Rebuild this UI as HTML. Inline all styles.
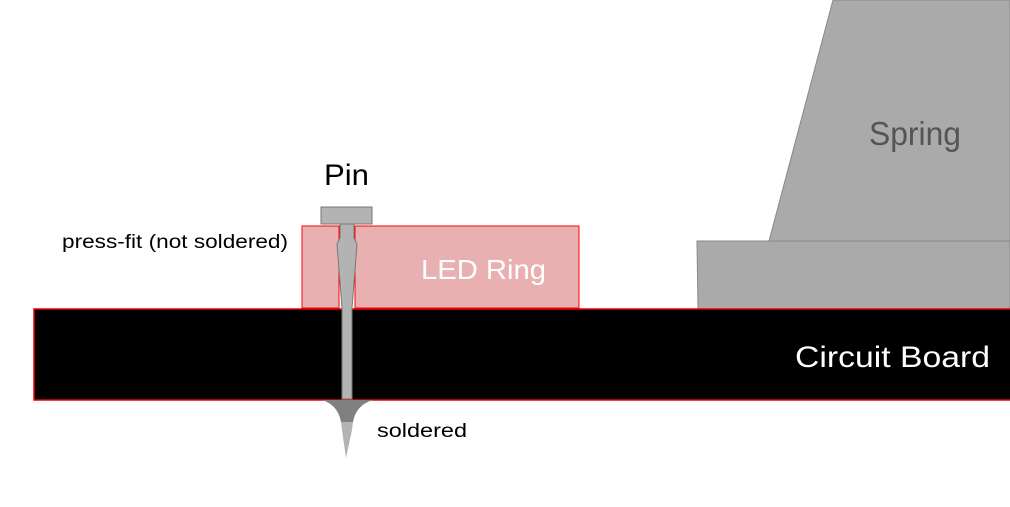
<!DOCTYPE html>
<html><head><meta charset="utf-8"><style>html,body{margin:0;padding:0;background:#fff}svg{display:block}</style></head>
<body>
<svg width="1010" height="507" viewBox="0 0 1010 507" xmlns="http://www.w3.org/2000/svg" font-family="Liberation Sans, sans-serif">
<rect width="1010" height="507" fill="#fff"/>
<!-- spring -->
<polygon points="769,241 833,0 1010,0 1010,241" fill="#aaa" stroke="#888" stroke-width="1"/>
<polygon points="697,241 1010,241 1010,309 698,309" fill="#aaa" stroke="#888" stroke-width="1"/>
<text x="869" y="145" font-size="33" fill="#555" textLength="92" lengthAdjust="spacingAndGlyphs">Spring</text>
<!-- LED ring -->
<rect x="302" y="226" width="37" height="82" fill="#e8b0b0" stroke="#f00" stroke-width="1"/>
<rect x="355" y="226" width="224" height="82" fill="#e8b0b0" stroke="#f00" stroke-width="1"/>
<text x="421" y="279" font-size="28" fill="#fff" textLength="125" lengthAdjust="spacingAndGlyphs">LED Ring</text>
<!-- board -->
<rect x="34" y="309" width="980" height="91" fill="#000" stroke="#e00" stroke-width="1.5"/>
<text x="795" y="367" font-size="30" fill="#fff" textLength="195" lengthAdjust="spacingAndGlyphs">Circuit Board</text>
<!-- pin -->
<rect x="321" y="207" width="51" height="17" fill="#b3b3b3" stroke="#777" stroke-width="1"/>
<polygon points="340,224 354,224 354,238 357,244 352,308 352,399 342,399 342,308 337,244 340,238" fill="#b3b3b3" stroke="#777" stroke-width="1"/>
<path d="M322,400 L373,400 Q356,405 353,422 L341,422 Q338,405 322,400 Z" fill="#808080"/>
<polygon points="341,422 353,422 352,430 346,458 342,430" fill="#b3b3b3"/>
<text x="324" y="185" font-size="30" fill="#000" textLength="45" lengthAdjust="spacingAndGlyphs">Pin</text>
<text x="62" y="248" font-size="19" fill="#000" textLength="226" lengthAdjust="spacingAndGlyphs">press-fit (not soldered)</text>
<text x="377" y="437" font-size="19" fill="#000" textLength="90" lengthAdjust="spacingAndGlyphs">soldered</text>
</svg>
</body></html>
